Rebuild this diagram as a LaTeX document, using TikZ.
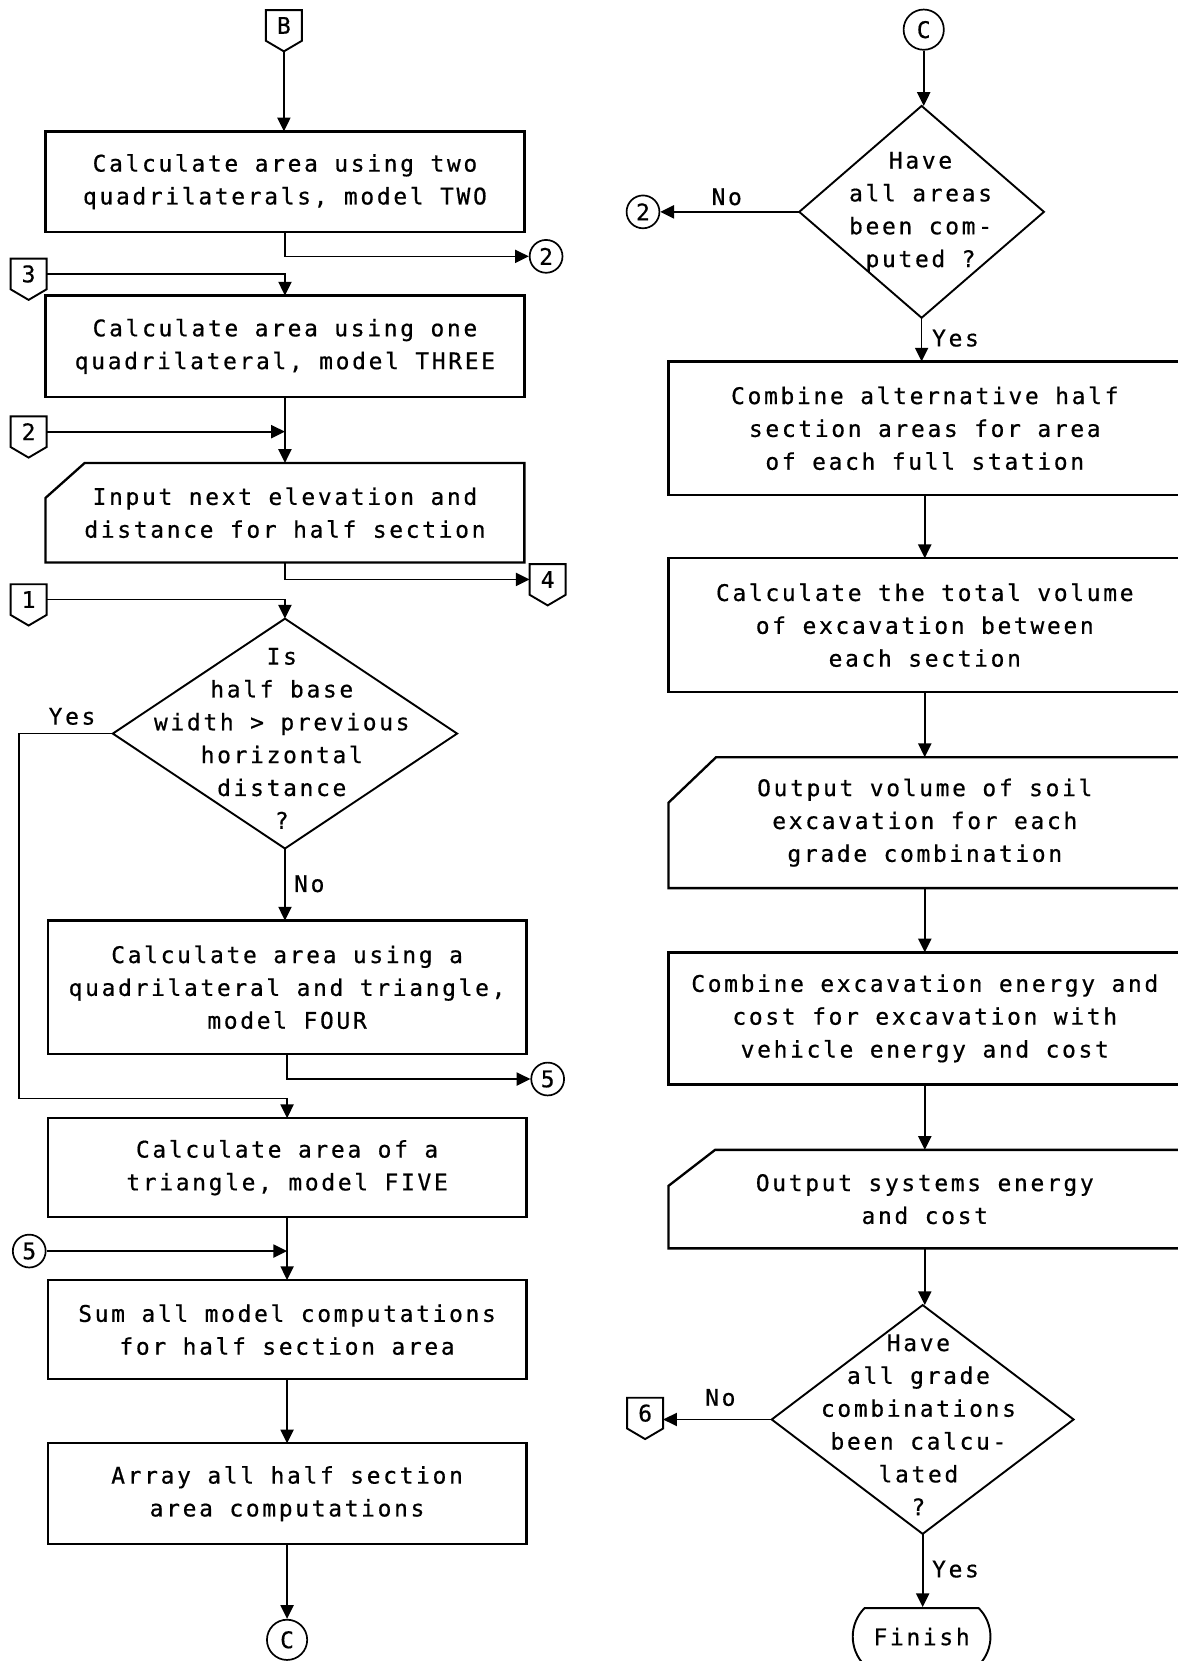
\documentclass[tikz,border=0pt]{standalone}
\usepackage{fontspec}
\newfontfamily\twfont[LetterSpace=11.8,FakeBold=0.6]{DejaVu Sans Mono}
\usetikzlibrary{arrows.meta,shapes.geometric,shapes.misc,calc}
\newcommand\pentdraw[1]{%
  \draw[line width=0.9pt] (#1.north west) -- (#1.north east) -- (#1.south east)
    -- ($(#1.south)+(0,10)$) -- (#1.south west) -- cycle;
  \coordinate (#1tip) at ($(#1.south)+(0,10)$);}
\newcommand\cutdraw[3]{%
  \draw[line width=1.1pt] ($(#1.north west)+(0,#3)$) -- ($(#1.north west)+(#2,0)$)
    -- (#1.north east) -- (#1.south east) -- (#1.south west) -- cycle;}
\begin{document}
\begin{tikzpicture}[x=0.5pt,y=-0.5pt,
  font={\twfont\fontsize{10.8pt}{15.5pt}\selectfont},
  proc/.style={draw,line width=1.1pt,rectangle,inner sep=0pt,outer sep=0pt,align=center},
  cutbox/.style={rectangle,inner sep=0pt,outer sep=0pt,align=center},
  ln/.style={line width=0.8pt},
  arr/.style={ln,-{Triangle[length=6.5pt,width=6.2pt]}},
  circ/.style={draw,circle,line width=0.8pt,inner sep=0pt,minimum size=15.5pt},
  bigcirc/.style={draw,circle,line width=0.8pt,inner sep=0pt,minimum size=19pt},
  dia/.style={draw,diamond,line width=0.9pt,inner sep=0pt,outer sep=0pt},
  pentn/.style={rectangle,inner sep=0pt,outer sep=0pt,minimum width=17pt,minimum height=14.5pt},
  lbl/.style={inner sep=0pt,anchor=base},
  dtext/.style={inner sep=0pt,align=center},
  term/.style={draw,rounded rectangle,rounded rectangle arc length=90,line width=0.9pt,
    inner sep=0pt,minimum width=65pt,minimum height=27pt}
]
\useasboundingbox (0,0) rectangle (1112,1568);
\fill[white] (0,0) rectangle (1112,1568);
\clip (0,0) rectangle (1112,1568);

% ---------------- left column ----------------
\node[pentn] (pB) at (268,24) {B};
\pentdraw{pB}
\node[proc,minimum width=226pt,minimum height=47.5pt] (b1) at (269,171.5)
  {Calculate area using two\\quadrilaterals, model TWO};
\node[circ] (c2a) at (515.5,242) {2};
\node[pentn] (p3) at (27,258.6) {3};
\pentdraw{p3}
\node[proc,minimum width=226pt,minimum height=48pt] (b2) at (269,327)
  {Calculate area using one\\quadrilateral, model THREE};
\node[pentn] (p2) at (27,407.5) {2};
\pentdraw{p2}
\node[cutbox,minimum width=226pt,minimum height=47pt] (in1) at (269,484)
  {Input next elevation and\\distance for half section};
\cutdraw{in1}{37}{33}
\node[pentn] (p4) at (517,547) {4};
\pentdraw{p4}
\node[pentn] (p1) at (27,566) {1};
\pentdraw{p1}
\node[dia,minimum width=162.5pt,minimum height=108.5pt] (d1) at (269,692.5) {};
\node[dtext] (d1t) at (266,697)
  {Is\\half base\\width > previous\\horizontal\\distance\\?};
\node[lbl] (yes1) at (68,684) {Yes};
\node[lbl] (no1) at (292,842) {No};
\node[proc,minimum width=226pt,minimum height=63pt] (b3) at (271,932)
  {Calculate area using a\\quadrilateral and triangle,\\model FOUR};
\node[circ] (c5a) at (517,1018.6) {5};
\coordinate (yl) at (18,1037);
\node[proc,minimum width=226pt,minimum height=46.7pt] (b4) at (271,1102.3)
  {Calculate area of a\\triangle, model FIVE};
\node[circ] (c5b) at (27.6,1181) {5};
\node[proc,minimum width=226pt,minimum height=46.85pt] (b5) at (271,1255.2)
  {Sum all model computations\\for half section area};
\node[proc,minimum width=226pt,minimum height=47.5pt] (b6) at (271,1410)
  {Array all half section\\area computations};
\node[bigcirc] (cL) at (271,1548) {C};

\draw[arr] (pBtip) -- (pBtip |- b1.north);
\draw[arr] (b1.south) |- (c2a.west);
\draw[arr] (p3.east) -| (b2.north);
\draw[arr] (b2.south) -- (in1.north);
\draw[arr] (p2.east) -- (p2.east -| b2.south);
\draw[arr] (in1.south) |- (p4.west);
\draw[arr] (p1.east) -| (d1.north);
\draw[arr] (d1.west) -| (yl) -| (b4.north);
\draw[arr] (d1.south) -- (d1.south |- b3.north);
\draw[arr] (b3.south) |- (c5a.west);
\draw[arr] (c5b.east) -- (c5b.east -| b4.south);
\draw[arr] (b4.south) -- (b5.north);
\draw[arr] (b5.south) -- (b6.north);
\draw[arr] (b6.south) -- (cL.north);

% ---------------- right column ----------------
\node[bigcirc] (cR) at (872,28) {C};
\node[dia,minimum width=115.5pt,minimum height=100pt] (d2) at (870,200) {};
\node[dtext] (d2t) at (869,200) {Have\\all areas\\been com-\\puted ?};
\node[circ] (c2b) at (607,200) {2};
\node[lbl] (no2) at (686,193.5) {No};
\node[lbl] (yes2) at (902,327) {Yes};
\node[proc,minimum width=242pt,minimum height=63pt] (b7) at (873,404.3)
  {Combine alternative half\\section areas for area\\of each full station};
\node[proc,minimum width=242pt,minimum height=63.2pt] (b8) at (873,590.2)
  {Calculate the total volume\\of excavation between\\each section};
\node[cutbox,minimum width=242pt,minimum height=61.8pt] (o1) at (873,776.6)
  {Output volume of soil\\excavation for each\\grade combination};
\cutdraw{o1}{45}{43}
\node[proc,minimum width=242pt,minimum height=62.35pt] (b10) at (873,961.4)
  {Combine excavation energy and\\cost for excavation with\\vehicle energy and cost};
\node[cutbox,minimum width=242pt,minimum height=46.5pt] (o2) at (873,1132)
  {Output systems energy\\and cost};
\cutdraw{o2}{44}{34}
\node[dia,minimum width=142.5pt,minimum height=108pt] (d3) at (871,1340) {};
\node[dtext] (d3t) at (867,1345)
  {Have\\all grade\\combinations\\been calcu-\\lated\\?};
\node[pentn] (p6) at (609,1334) {6};
\pentdraw{p6}
\node[lbl] (no3) at (680,1327) {No};
\node[lbl] (yes3) at (902,1489) {Yes};
\node[term] (fin) at (870,1545) {Finish};

\draw[arr] (cR.south) -- (cR.south |- d2.north);
\draw[arr] (d2.west) -- (c2b.east);
\draw[arr] (d2.south) -- (d2.south |- b7.north);
\draw[arr] (b7.south) -- (b8.north);
\draw[arr] (b8.south) -- (o1.north);
\draw[arr] (o1.south) -- (b10.north);
\draw[arr] (b10.south) -- (o2.north);
\draw[arr] (o2.south) -- (o2.south |- d3.north);
\draw[arr] (d3.west) -- (d3.west -| p6.east);
\draw[arr] (d3.south) -- (d3.south |- fin.north);
\end{tikzpicture}
\end{document}
